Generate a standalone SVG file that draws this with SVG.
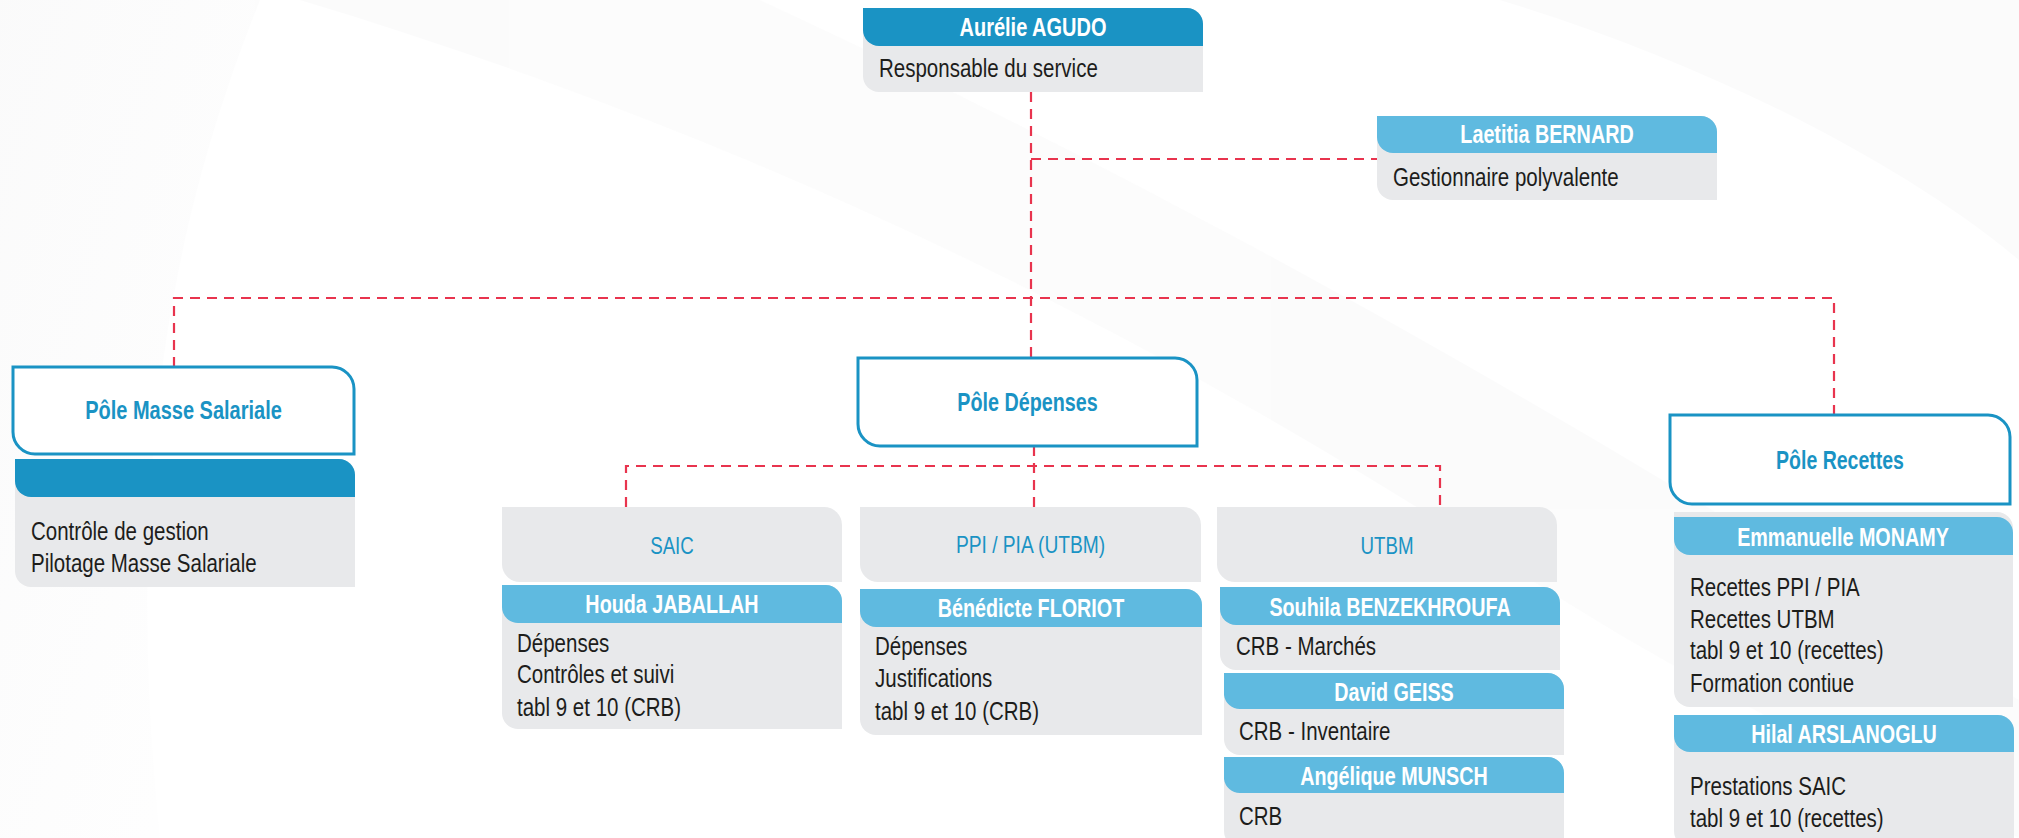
<svg xmlns="http://www.w3.org/2000/svg" width="2019" height="838" viewBox="0 0 2019 838">
<defs>
<linearGradient id="bg1" x1="0" y1="0" x2="1" y2="1">
<stop offset="0" stop-color="#efeff0"/>
<stop offset="1" stop-color="#ffffff"/>
</linearGradient>
</defs>
<style>
.hd1{fill:#1a93c4}
.hd2{fill:#5fbae0}
.bd{fill:#e8e9eb}
.pole{fill:#ffffff;stroke:#1a93c4;stroke-width:3}
.dash{fill:none;stroke:#e8344e;stroke-width:2.2;stroke-dasharray:10 7}
text{font-family:"Liberation Sans",Arial,sans-serif;font-size:25px}
.hn{font-weight:bold;fill:#ffffff;text-anchor:middle}
.pt{font-weight:bold;fill:#1a93c4;text-anchor:middle}
.st{fill:#1a93c4;text-anchor:middle;font-size:24px}
.tx{fill:#1d1d1b}
</style>
<rect width="2019" height="838" fill="#ffffff"/>
<g id="background" opacity="0.3">
<path d="M0 0 H260 C180 200 120 450 160 838 H0 Z" fill="url(#bg1)"/>
<path d="M300 0 C700 120 1100 300 1500 560 C1700 690 1850 760 2019 838 V700 C1700 500 1300 250 760 0 Z" fill="#f4f4f5"/>
<path d="M1500 0 C1700 60 1900 160 2019 260 V0 Z" fill="#f3f3f4"/>
</g>
<g id="connectors">
<path class="dash" d="M1031 92 V358"/>
<path class="dash" d="M1031 159 H1377"/>
<path class="dash" d="M174 367 V298 H1834 V415"/>
<path class="dash" d="M1034 446 V507"/>
<path class="dash" d="M626 507 V466 H1440 V507"/>
</g>
<g id="n-agudo">
<path class="bd" d="M863 8 H1187 A16 16 0 0 1 1203 24 V92 H879 A16 16 0 0 1 863 76 Z"/>
<path class="hd1" d="M863 8 H1187 A16 16 0 0 1 1203 24 V46 H879 A16 16 0 0 1 863 30 Z"/>
<text class="hn" transform="translate(1033,36) scale(0.8,1)">Aurélie AGUDO</text>
<text class="tx" transform="translate(879,77) scale(0.82,1)">Responsable du service</text>
</g>
<g id="n-bernard">
<path class="bd" d="M1377 116 H1701 A16 16 0 0 1 1717 132 V200 H1393 A16 16 0 0 1 1377 184 Z"/>
<path class="hd2" d="M1377 116 H1701 A16 16 0 0 1 1717 132 V153 H1393 A16 16 0 0 1 1377 137 Z"/>
<text class="hn" transform="translate(1547,143) scale(0.79,1)">Laetitia BERNARD</text>
<text class="tx" transform="translate(1393,186) scale(0.82,1)">Gestionnaire polyvalente</text>
</g>
<g id="n-pole-masse">
<path class="pole" d="M13 367 H332 A22 22 0 0 1 354 389 V454 H35 A22 22 0 0 1 13 432 Z"/>
<text class="pt" transform="translate(183.5,419) scale(0.8,1)">Pôle Masse Salariale</text>
</g>
<g id="n-masse-card">
<path class="bd" d="M15 459 H339 A16 16 0 0 1 355 475 V587 H31 A16 16 0 0 1 15 571 Z"/>
<path class="hd1" d="M15 459 H339 A16 16 0 0 1 355 475 V497 H31 A16 16 0 0 1 15 481 Z"/>
<text class="tx" transform="translate(31,540) scale(0.82,1)"><tspan x="0" y="0">Contrôle de gestion</tspan><tspan x="0" y="32">Pilotage Masse Salariale</tspan></text>
</g>
<g id="n-pole-depenses">
<path class="pole" d="M858 358 H1175 A22 22 0 0 1 1197 380 V446 H880 A22 22 0 0 1 858 424 Z"/>
<text class="pt" transform="translate(1027.5,411) scale(0.79,1)">Pôle Dépenses</text>
</g>
<g id="n-pole-recettes">
<path class="pole" d="M1670 415 H1988 A22 22 0 0 1 2010 437 V504 H1692 A22 22 0 0 1 1670 482 Z"/>
<text class="pt" transform="translate(1840,469) scale(0.78,1)">Pôle Recettes</text>
</g>
<g id="n-saic">
<path class="bd" d="M502 507 H824 A18 18 0 0 1 842 525 V582 H520 A18 18 0 0 1 502 564 Z"/>
<text class="st" transform="translate(672,554) scale(0.78,1)">SAIC</text>
</g>
<g id="n-jaballah">
<path class="bd" d="M502 585 H826 A16 16 0 0 1 842 601 V729 H518 A16 16 0 0 1 502 713 Z"/>
<path class="hd2" d="M502 585 H826 A16 16 0 0 1 842 601 V623 H518 A16 16 0 0 1 502 607 Z"/>
<text class="hn" transform="translate(672,613) scale(0.79,1)">Houda JABALLAH</text>
<text class="tx" transform="translate(517,652) scale(0.82,1)"><tspan x="0" y="0">Dépenses</tspan><tspan x="0" y="31">Contrôles et suivi</tspan><tspan x="0" y="64">tabl 9 et 10 (CRB)</tspan></text>
</g>
<g id="n-ppi">
<path class="bd" d="M860 507 H1183 A18 18 0 0 1 1201 525 V582 H878 A18 18 0 0 1 860 564 Z"/>
<text class="st" transform="translate(1030.5,553) scale(0.8,1)">PPI / PIA (UTBM)</text>
</g>
<g id="n-floriot">
<path class="bd" d="M860 589 H1186 A16 16 0 0 1 1202 605 V735 H876 A16 16 0 0 1 860 719 Z"/>
<path class="hd2" d="M860 589 H1186 A16 16 0 0 1 1202 605 V627 H876 A16 16 0 0 1 860 611 Z"/>
<text class="hn" transform="translate(1031,617) scale(0.79,1)">Bénédicte FLORIOT</text>
<text class="tx" transform="translate(875,655) scale(0.82,1)"><tspan x="0" y="0">Dépenses</tspan><tspan x="0" y="32">Justifications</tspan><tspan x="0" y="65">tabl 9 et 10 (CRB)</tspan></text>
</g>
<g id="n-utbm">
<path class="bd" d="M1217 507 H1539 A18 18 0 0 1 1557 525 V582 H1235 A18 18 0 0 1 1217 564 Z"/>
<text class="st" transform="translate(1387,554) scale(0.78,1)">UTBM</text>
</g>
<g id="n-benzekhroufa">
<path class="bd" d="M1220 587 H1544 A16 16 0 0 1 1560 603 V670 H1236 A16 16 0 0 1 1220 654 Z"/>
<path class="hd2" d="M1220 587 H1544 A16 16 0 0 1 1560 603 V625 H1236 A16 16 0 0 1 1220 609 Z"/>
<text class="hn" transform="translate(1390,616) scale(0.79,1)">Souhila BENZEKHROUFA</text>
<text class="tx" transform="translate(1236,655) scale(0.82,1)">CRB - Marchés</text>
</g>
<g id="n-geiss">
<path class="bd" d="M1224 673 H1548 A16 16 0 0 1 1564 689 V755 H1240 A16 16 0 0 1 1224 739 Z"/>
<path class="hd2" d="M1224 673 H1548 A16 16 0 0 1 1564 689 V709 H1240 A16 16 0 0 1 1224 695 Z"/>
<text class="hn" transform="translate(1394,701) scale(0.79,1)">David GEISS</text>
<text class="tx" transform="translate(1239,740) scale(0.82,1)">CRB - Inventaire</text>
</g>
<g id="n-munsch">
<path class="bd" d="M1224 757 H1548 A16 16 0 0 1 1564 773 V847 H1240 A16 16 0 0 1 1224 831 Z"/>
<path class="hd2" d="M1224 757 H1548 A16 16 0 0 1 1564 773 V793 H1240 A16 16 0 0 1 1224 779 Z"/>
<text class="hn" transform="translate(1394,785) scale(0.79,1)">Angélique MUNSCH</text>
<text class="tx" transform="translate(1239,825) scale(0.82,1)">CRB</text>
</g>
<g id="n-monamy">
<path class="bd" d="M1674 512 H1997 A16 16 0 0 1 2013 528 V707 H1690 A16 16 0 0 1 1674 691 Z"/>
<path class="hd2" d="M1674 517 H1997 A16 16 0 0 1 2013 533 V555 H1690 A16 16 0 0 1 1674 539 Z"/>
<text class="hn" transform="translate(1843,546) scale(0.79,1)">Emmanuelle MONAMY</text>
<text class="tx" transform="translate(1690,596) scale(0.82,1)"><tspan x="0" y="0">Recettes PPI / PIA</tspan><tspan x="0" y="32">Recettes UTBM</tspan><tspan x="0" y="63">tabl 9 et 10 (recettes)</tspan><tspan x="0" y="96">Formation contiue</tspan></text>
</g>
<g id="n-arslanoglu">
<path class="bd" d="M1674 715 H1998 A16 16 0 0 1 2014 731 V847 H1690 A16 16 0 0 1 1674 831 Z"/>
<path class="hd2" d="M1674 715 H1998 A16 16 0 0 1 2014 731 V752 H1690 A16 16 0 0 1 1674 736 Z"/>
<text class="hn" transform="translate(1844,743) scale(0.79,1)">Hilal ARSLANOGLU</text>
<text class="tx" transform="translate(1690,795) scale(0.82,1)"><tspan x="0" y="0">Prestations SAIC</tspan><tspan x="0" y="32">tabl 9 et 10 (recettes)</tspan></text>
</g>
</svg>
